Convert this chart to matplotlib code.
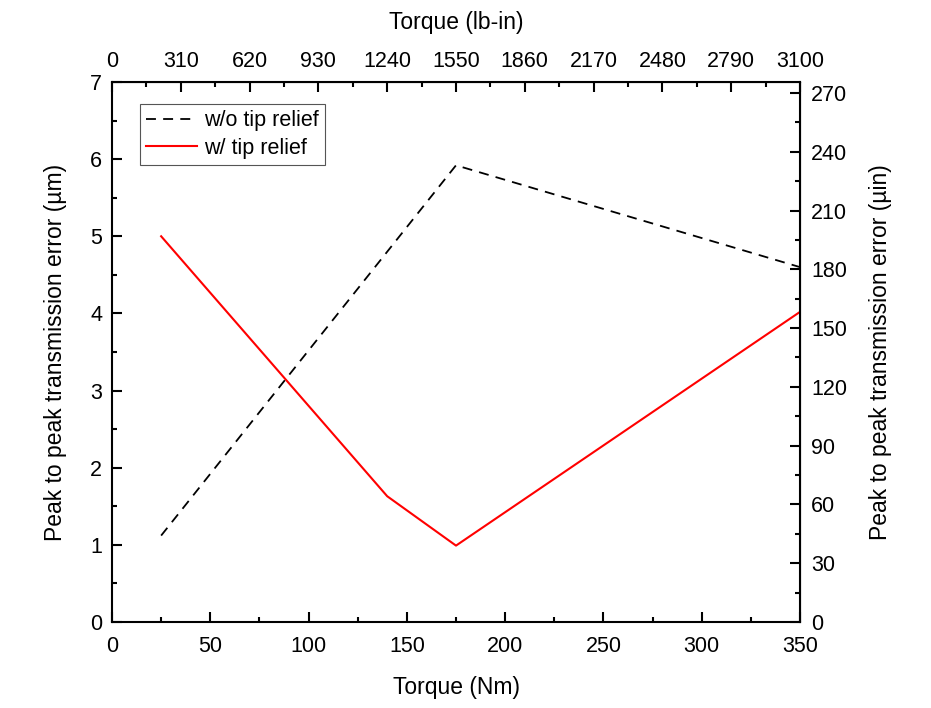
import matplotlib.pyplot as plt
import numpy as np

plt.rcParams['font.family'] = ['Liberation Sans', 'DejaVu Sans']

# torque in Nm and peak-to-peak transmission error in micrometres
torque_no_relief = [25, 175, 350]
pte_no_relief = [1.12, 5.92, 4.60]

torque_relief = [25, 140, 175, 350]
pte_relief = [5.00, 1.63, 0.99, 4.02]

NM_TO_LBIN = 3100 / 350
UM_TO_UIN = 39.37

fig = plt.figure(figsize=(9.31, 7.08), dpi=100)
ax = fig.add_axes([0.1203, 0.1215, 0.739, 0.7627])

ax.plot(torque_no_relief, pte_no_relief, color='black', lw=1.3,
        linestyle=(0, (5.5, 4)), label='w/o tip relief')
ax.plot(torque_relief, pte_relief, color='red', lw=1.5, label='w/ tip relief')

ax.set_xlim(0, 350)
ax.set_ylim(0, 7)
ax.set_xticks(np.arange(0, 351, 50))
ax.set_xticks(np.arange(25, 350, 50), minor=True)
ax.set_yticks(np.arange(0, 8, 1))
ax.set_yticks(np.arange(0.5, 7, 1), minor=True)
ax.set_xlabel('Torque (Nm)', fontsize=16.5, labelpad=14)
ax.set_ylabel('Peak to peak transmission error (\u00b5m)', fontsize=16.5, labelpad=17)

for s in ax.spines.values():
    s.set_linewidth(1.5)

tick_kw = dict(direction='in', width=1.5, labelsize=15.5)
ax.tick_params(which='major', length=7, pad=7, **tick_kw)
ax.tick_params(which='minor', length=3.6, **tick_kw)
ax.tick_params(axis='x', which='major', pad=10)

# top axis in lb-in
top = ax.secondary_xaxis('top', functions=(lambda x: x * NM_TO_LBIN,
                                           lambda x: x / NM_TO_LBIN))
top.set_xticks(np.arange(0, 3101, 310))
top.set_xticks(np.arange(155, 3100, 310), minor=True)
top.set_xlabel('Torque (lb-in)', fontsize=16.5, labelpad=16)
top.tick_params(which='major', length=7, pad=7, **tick_kw)
top.tick_params(which='minor', length=3.6, **tick_kw)

# right axis in micro-inches
right = ax.secondary_yaxis('right', functions=(lambda y: y * UM_TO_UIN,
                                               lambda y: y / UM_TO_UIN))
right.set_yticks(np.arange(0, 271, 30))
right.set_yticks(np.arange(15, 271, 30), minor=True)
right.set_ylabel('Peak to peak transmission error (\u00b5in)', fontsize=16.5, labelpad=16)
right.tick_params(which='major', length=7, pad=8, **tick_kw)
right.tick_params(which='minor', length=3.6, **tick_kw)

leg = ax.legend(loc='upper left', bbox_to_anchor=(0.04, 0.96), fontsize=15.5,
                frameon=True, fancybox=False, framealpha=1, borderpad=0.3,
                handlelength=2.35, handletextpad=0.35, labelspacing=0.3,
                borderaxespad=0)
leg.get_frame().set_edgecolor('#555555')
leg.get_frame().set_linewidth(0.8)

plt.savefig('out.png', dpi=100)
